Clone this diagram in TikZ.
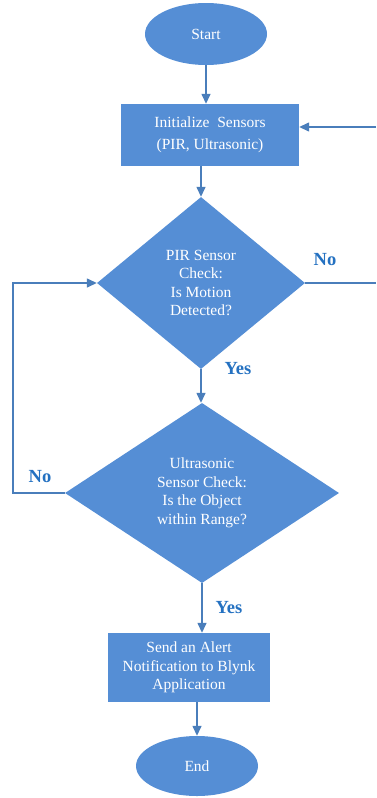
\documentclass[tikz,border=0pt]{standalone}
\usepackage{fontspec}
\setmainfont{Liberation Serif}
\usetikzlibrary{shapes.geometric,arrows.meta,calc}
\definecolor{boxfill}{RGB}{85,142,213}
\definecolor{linec}{RGB}{74,126,187}
\definecolor{labc}{RGB}{36,113,193}
\begin{document}
\begin{tikzpicture}[x=1pt,y=-1pt,
  every node/.style={font=\fontsize{15.5}{18.5}\selectfont},
  terminal/.style={ellipse,fill=boxfill,text=white,minimum width=122pt,minimum height=62pt,inner sep=0pt},
  procbox/.style={rectangle,fill=boxfill,text=white,align=center,inner sep=0pt},
  decision/.style={diamond,fill=boxfill,text=white,align=center,inner sep=0pt},
  conn/.style={draw=linec,line width=1.4pt},
  arr/.style={conn,-{Triangle[length=10pt,width=9pt]}},
  lab/.style={text=labc,font=\fontsize{18.5}{20}\selectfont\bfseries}]
\useasboundingbox (0,0) rectangle (376,798);
\node[terminal] (start) at (206,34) {Start};
\node[procbox,minimum width=178pt,minimum height=62pt] (init) at (210,135) {Initialize~ Sensors\\[3pt](PIR, Ultrasonic)};
\node[decision,minimum width=208pt,minimum height=172pt] (d1) at (201,283) {PIR Sensor\\Check:\\Is Motion\\Detected?};
\node[decision,minimum width=274pt,minimum height=180pt] (d2) at (202,493) {Ultrasonic\\Sensor Check:\\Is the Object\\within Range?};
\node[procbox,minimum width=162pt,minimum height=69pt] (alert) at (189,667.5) {Send an Alert\\Notification to Blynk\\Application};
\node[terminal,minimum height=60pt] (end) at (197,766) {End};
\coordinate (rbot) at (376,283);
\coordinate (rtop) at (376,127);
\draw[arr] (start.south) -- (start.south |- init.north);
\draw[arr] (init.south -| d1.north) -- (d1.north);
\draw[arr] (d1.south) -- (d1.south |- d2.north);
\draw[arr] (d2.south) -- (d2.south |- alert.north);
\draw[arr] (alert.south -| end.north) -- (end.north);
\draw[arr] (d2.west) -- ++(-52,0) |- (d1.west);
\draw[conn] (d1.east) -- (rbot);
\draw[arr] (rtop) -- (rtop -| init.east);
\node[lab] (no1) at (325,260) {No};
\node[lab] (yes1) at (238,369) {Yes};
\node[lab] (no2) at (40,477) {No};
\node[lab] (yes2) at (229,608) {Yes};
\end{tikzpicture}
\end{document}
